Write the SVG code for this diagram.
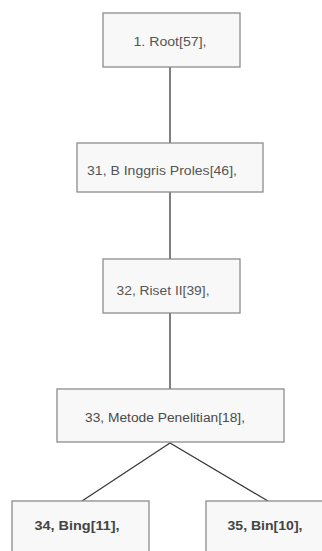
<svg xmlns="http://www.w3.org/2000/svg" width="322" height="551" viewBox="0 0 322 551">
<style>
.box{fill:#f8f8f8;stroke:#8c8c8c;stroke-width:1.3}
.t{font-family:"Liberation Sans",Arial,sans-serif;font-size:12px;fill:#555;text-anchor:middle}
.b{font-weight:bold;fill:#444}
.c{stroke:#3a3a3a;stroke-width:1.3;fill:none}
</style>
<rect width="322" height="551" fill="#fff"/>
<g id="connectors">
<line class="c" x1="170" y1="67" x2="170" y2="143"/>
<line class="c" x1="170" y1="192" x2="170" y2="259"/>
<line class="c" x1="170" y1="313" x2="170" y2="389"/>
<polyline class="c" points="82,501 170,443 268,501"/>
</g>
<g id="n1"><rect class="box" x="103" y="13" width="137" height="54"/><text class="t" x="170" y="46" textLength="73" lengthAdjust="spacingAndGlyphs">1. Root[57],</text></g>
<g id="n31"><rect class="box" x="77" y="143" width="186" height="49"/><text class="t" x="162" y="175" textLength="150" lengthAdjust="spacingAndGlyphs">31, B Inggris Proles[46],</text></g>
<g id="n32"><rect class="box" x="103" y="259" width="137" height="54"/><text class="t" x="163" y="295" textLength="93" lengthAdjust="spacingAndGlyphs">32, Riset II[39],</text></g>
<g id="n33"><rect class="box" x="57" y="389" width="227" height="53"/><text class="t" x="165" y="422" textLength="160" lengthAdjust="spacingAndGlyphs" style="fill:#4a4a4a">33, Metode Penelitian[18],</text></g>
<g id="n34"><rect class="box" x="12" y="501" width="137" height="60"/><text class="t b" x="77" y="530" textLength="85" lengthAdjust="spacingAndGlyphs">34, Bing[11],</text></g>
<g id="n35"><rect class="box" x="206" y="501" width="130" height="60"/><text class="t b" x="265" y="530" textLength="75" lengthAdjust="spacingAndGlyphs">35, Bin[10],</text></g>
</svg>
